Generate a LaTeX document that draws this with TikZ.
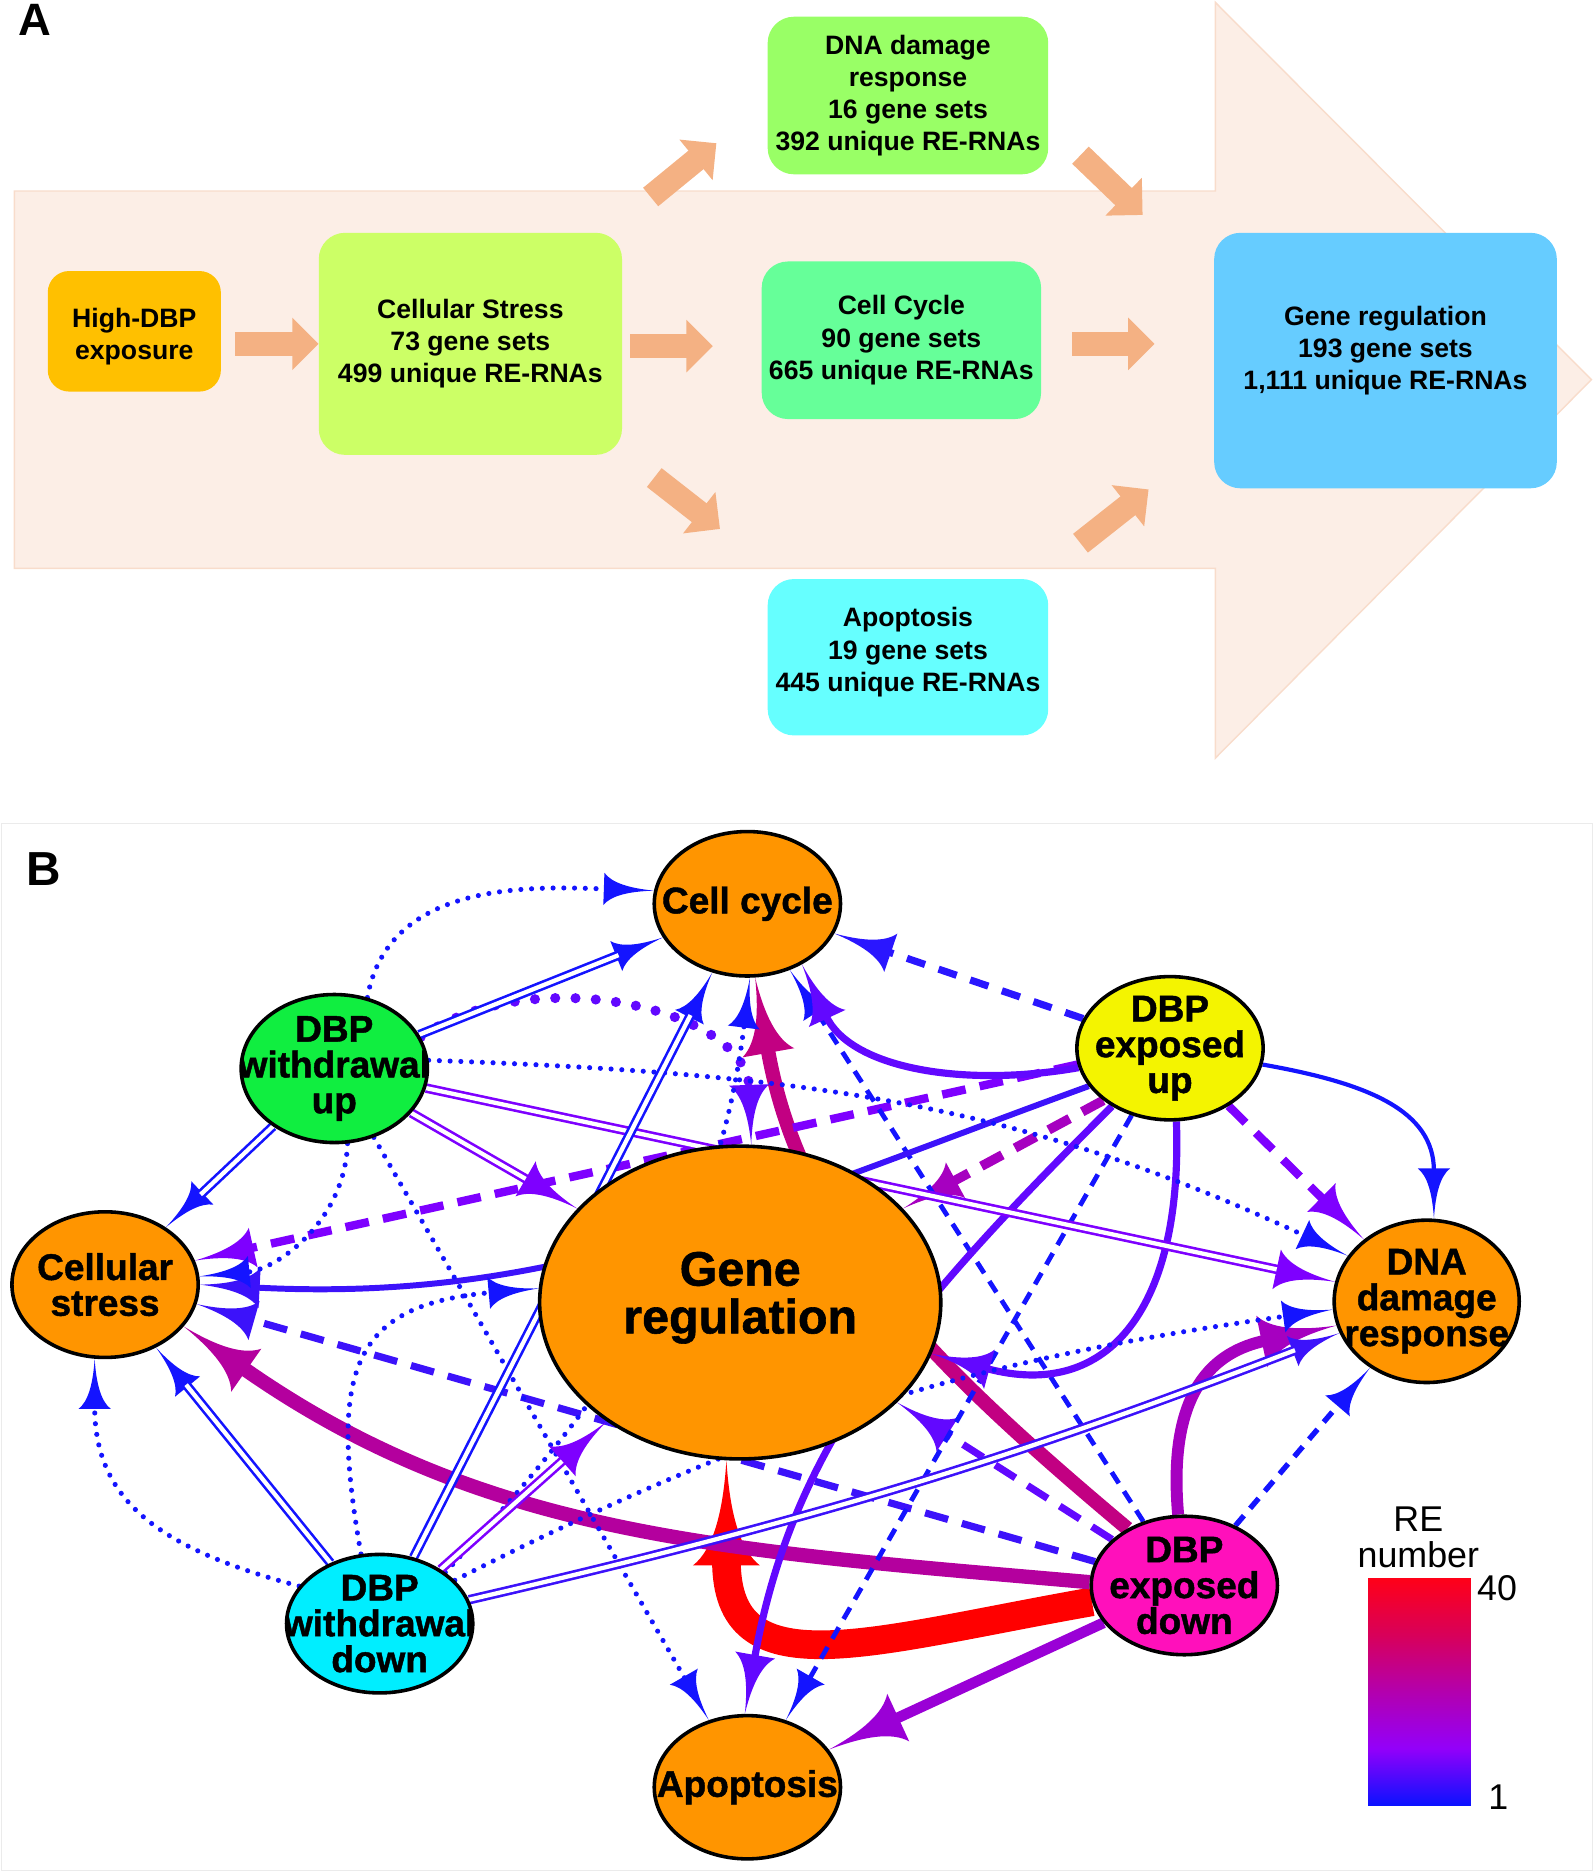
\documentclass[tikz,border=0pt]{standalone}
\usepackage{fontspec}
\setmainfont{Liberation Sans}
\newfontfamily\heavy[FakeBold=1.2]{Liberation Sans Bold}
\usetikzlibrary{arrows.meta,shapes.geometric}

% panel A colours
\definecolor{hdbp}{HTML}{FFC000}
\definecolor{cstress}{HTML}{CCFF66}
\definecolor{dnadmg}{HTML}{99FF66}
\definecolor{ccycle}{HTML}{66FF99}
\definecolor{apopt}{HTML}{66FFFF}
\definecolor{genereg}{HTML}{66CCFF}
\definecolor{peach}{HTML}{FCEEE6}
\definecolor{peachline}{HTML}{F8DCCB}
\definecolor{flowc}{HTML}{F4B183}
% panel B colours
\definecolor{orangeN}{HTML}{FF9500}
\definecolor{greenN}{HTML}{10EE40}
\definecolor{yellowN}{HTML}{F4F400}
\definecolor{cyanN}{HTML}{00EEFF}
\definecolor{magN}{HTML}{FF10BB}
\definecolor{reblue}{HTML}{1414FF}
\definecolor{reblueb}{HTML}{2A16FF}
\definecolor{reindigo}{HTML}{3C12FA}
\definecolor{reviolet}{HTML}{6208FF}
\definecolor{repurple}{HTML}{7E00FF}
\definecolor{reorchid}{HTML}{9A00D6}
\definecolor{remagpur}{HTML}{A600C0}
\definecolor{remag}{HTML}{B4009E}
\definecolor{rerose}{HTML}{C20082}
\definecolor{rered}{HTML}{FF0000}
\definecolor{lgblue}{HTML}{0B12FF}
\definecolor{lgpurple}{HTML}{9300FA}
\definecolor{lgmag}{HTML}{B300AE}
\definecolor{lgcrim}{HTML}{D8005A}
\definecolor{lgred}{HTML}{FF0018}

\pgfdeclarelayer{edges}
\pgfsetlayers{edges,main}

% swept arrow head
\pgfdeclarearrow{
  name = Swept,
  parameters = {\the\pgfarrowlength,\the\pgfarrowwidth},
  setup code = {
    \pgfarrowssettipend{0pt}
    \pgfarrowssetbackend{-\pgfarrowlength}
    \pgfarrowssetlineend{-.95\pgfarrowlength}
    \pgfarrowssavethe\pgfarrowlength
    \pgfarrowssavethe\pgfarrowwidth
  },
  drawing code = {
    \pgfpathmoveto{\pgfqpoint{0pt}{0pt}}
    \pgfpathcurveto{\pgfqpoint{-.5\pgfarrowlength}{.05\pgfarrowwidth}}{\pgfqpoint{-.85\pgfarrowlength}{.2\pgfarrowwidth}}{\pgfqpoint{-\pgfarrowlength}{.5\pgfarrowwidth}}
    \pgfpathlineto{\pgfqpoint{-\pgfarrowlength}{-.5\pgfarrowwidth}}
    \pgfpathcurveto{\pgfqpoint{-.85\pgfarrowlength}{-.2\pgfarrowwidth}}{\pgfqpoint{-.5\pgfarrowlength}{-.05\pgfarrowwidth}}{\pgfqpoint{0pt}{0pt}}
    \pgfpathclose
    \pgfusepathqfill
  },
  defaults = {length = 40pt, width = 25pt}
}

% plain triangle head for the block arrows
\pgfdeclarearrow{
  name = Blk,
  parameters = {\the\pgfarrowlength,\the\pgfarrowwidth},
  setup code = {
    \pgfarrowssettipend{0pt}
    \pgfarrowssetbackend{-\pgfarrowlength}
    \pgfarrowssetlineend{-.95\pgfarrowlength}
    \pgfarrowssavethe\pgfarrowlength
    \pgfarrowssavethe\pgfarrowwidth
  },
  drawing code = {
    \pgfpathmoveto{\pgfqpoint{0pt}{0pt}}
    \pgfpathlineto{\pgfqpoint{-\pgfarrowlength}{.5\pgfarrowwidth}}
    \pgfpathlineto{\pgfqpoint{-\pgfarrowlength}{-.5\pgfarrowwidth}}
    \pgfpathclose
    \pgfusepathqfill
  },
  defaults = {length = 22pt, width = 44pt}
}

\pgfdeclareverticalshading{renum}{100bp}{color(0bp)=(lgblue); color(25bp)=(lgblue);
  color(37.5bp)=(lgpurple); color(50bp)=(lgmag); color(62.5bp)=(lgcrim);
  color(75bp)=(lgred); color(100bp)=(lgred)}

\begin{document}
\begin{tikzpicture}[x=1pt, y=1pt,
    abox/.style={rounded corners=22pt, align=center, inner sep=0pt,
      font=\fontsize{22.3}{27}\selectfont\bfseries},
    flow/.style={flowc, line width=20pt, -{Blk[length=22pt, width=44pt]}},
    oval/.style={ellipse, draw=black, line width=3pt, inner sep=0pt,
      minimum width=156pt, minimum height=120pt},
    lbl/.style={path picture={\node[shape=rectangle, draw=none, fill=none, inner sep=0pt,
      minimum width=0pt, minimum height=0pt, align=center,
      font=\fontsize{31}{30}\selectfont\heavy] at (path picture bounding box.center) {#1};}},
    lblbig/.style={path picture={\node[shape=rectangle, draw=none, fill=none, inner sep=0pt,
      minimum width=0pt, minimum height=0pt, align=center,
      font=\fontsize{40.5}{40}\selectfont\heavy] at ([yshift=4pt]path picture bounding box.center) {#1};}},
    dotb/.style={reblue, line width=4.3pt, line cap=round, dash pattern=on 0pt off 9pt},
    dotp/.style={reviolet, line width=8.5pt, line cap=round, dash pattern=on 0pt off 17pt},
    dashb/.style={line width=4pt, dash pattern=on 11pt off 8pt},
    dashp/.style={line width=7pt, dash pattern=on 20pt off 12pt},
    dbl/.style={line width=8pt, postaction={draw=white, line width=3.6pt, -, shorten >=#1}},
    dbl/.default=40pt,
    tipS/.style={-{Swept[length=42pt, width=27pt]}},
    tipM/.style={-{Swept[length=50pt, width=34pt]}},
    tipL/.style={-{Swept[length=64pt, width=44pt]}},
    tipXL/.style={-{Swept[length=88pt, width=56pt]}}]

  \useasboundingbox (0,0) rectangle (1335,-1568);

  % ---------- panel A ----------
  \node[font=\fontsize{38}{38}\selectfont\bfseries] (A) at (29,-17) {A};
  \fill[peach, draw=peachline, line width=1.2pt] (12,-160) -- (1018,-160) -- (1018,-2)
    -- (1333,-318) -- (1018,-635) -- (1018,-476) -- (12,-476) -- cycle;

  \begin{scope}[every node/.style={abox}]
    \node[fill=hdbp, minimum width=145pt, minimum height=101pt, rounded corners=18pt, text height=52pt] (1) at (112.5,-277.5) {High-DBP\\exposure};
    \node[fill=cstress, minimum width=254pt, minimum height=186pt] (2) at (394,-288) {Cellular Stress\\73 gene sets\\499 unique RE-RNAs};
    \node[fill=dnadmg, minimum width=235pt, minimum height=132pt] (3) at (760.5,-80) {DNA damage\\response\\16 gene sets\\392 unique RE-RNAs};
    \node[fill=ccycle, minimum width=234pt, minimum height=132pt] (4) at (755,-285) {Cell Cycle\\90 gene sets\\665 unique RE-RNAs};
    \node[fill=apopt, minimum width=235pt, minimum height=131pt, text depth=13pt] (5) at (760.5,-550.5) {Apoptosis\\19 gene sets\\445 unique RE-RNAs};
    \node[fill=genereg, minimum width=287pt, minimum height=214pt, text depth=21pt] (6) at (1160.5,-302) {Gene regulation\\193 gene sets\\1,111 unique RE-RNAs};
  \end{scope}

  \coordinate (f1) at (197,-288);
  \coordinate (f2) at (528,-290);
  \coordinate (f2e) at (597,-290);
  \coordinate (f3) at (545,-165);
  \coordinate (f3e) at (600,-120);
  \coordinate (f4) at (548,-400);
  \coordinate (f4e) at (603,-443);
  \coordinate (f5) at (905,-130);
  \coordinate (f5e) at (957,-180);
  \coordinate (f6) at (898,-288);
  \coordinate (f6e) at (967,-288);
  \coordinate (f7) at (905,-455);
  \coordinate (f7e) at (962,-410);
  \draw[flow] (f1) -- (2.west);
  \draw[flow] (f2) -- (f2e);
  \draw[flow] (f3) -- (f3e);
  \draw[flow] (f4) -- (f4e);
  \draw[flow] (f5) -- (f5e);
  \draw[flow] (f6) -- (f6e);
  \draw[flow] (f7) -- (f7e);

  % ---------- panel B ----------
  \node[font=\fontsize{40}{40}\selectfont\bfseries] (B) at (37,-728) {B};

  \begin{scope}[every node/.style={oval}]
    \node[fill=orangeN, lbl={Cell cycle}, minimum height=121pt] (7) at (626,-757) {};
    \node[fill=greenN, lbl={DBP\\withdrawal\\up}, minimum height=124pt] (8) at (280,-895) {};
    \node[fill=yellowN, lbl={DBP\\exposed\\up}] (9) at (980,-878) {};
    \node[fill=orangeN, lbl={Cellular\\stress}, minimum height=122pt] (10) at (88,-1076) {};
    \node[fill=orangeN, lblbig={Gene\\regulation}, minimum width=336pt, minimum height=262pt] (11) at (620,-1091) {};
    \node[fill=orangeN, lbl={DNA\\damage\\response}, minimum width=155pt, minimum height=136pt] (12) at (1195,-1090) {};
    \node[fill=cyanN, lbl={DBP\\withdrawal\\down}, minimum height=116pt] (13) at (318,-1360) {};
    \node[fill=magN, lbl={DBP\\exposed\\down}, minimum height=116pt] (14) at (992,-1328) {};
    \node[fill=orangeN, lbl={Apoptosis}] (15) at (626,-1497) {};
  \end{scope}

  % legend
  \node[font=\fontsize{30}{30}\selectfont, align=center] (16) at (1188,-1288) {RE\\number};
  \node[shade, shading=renum, minimum width=86pt, minimum height=190pt, inner sep=0pt] (17) at (1189,-1417) {};
  \node[font=\fontsize{30}{30}\selectfont, anchor=west, inner sep=0pt] (18) at (1237,-1330) {40};
  \node[font=\fontsize{30}{30}\selectfont] (19) at (1255,-1505) {1};

  \begin{pgfonlayer}{edges}
    \draw[black!8, line width=1pt] (1,-690) rectangle (1334,-1567);
    \begin{scope}[every edge/.style={draw}]
      % thick ones first
      \path (14.190) edge[rered, line width=24pt, tipXL, out=190, in=-90, looseness=1.5] (11.265);
      \path (14.178) edge[remag, line width=12pt, tipL, out=175, in=-35] (10.332);
      \path (14.135) edge[rerose, line width=12pt, tipL, out=140, in=-80] (7.276);
      \path (14.95)  edge[remagpur, line width=10pt, tipL, out=95, in=192, looseness=1.3] (12.195);
      \path (14)     edge[reorchid, line width=9pt, tipL] (15);
      % dashed
      \path (9.218)  edge[remagpur, dashp, line width=8pt, tipM] (11.30);
      \path (9.190)  edge[repurple, dashp, tipM] (10.15);
      \path (9)      edge[repurple, dashp, tipM] (12);
      \path (14)     edge[reviolet, dashp, line width=6pt, tipM] (11);
      \path (14.165) edge[reindigo, dashp, line width=6pt, tipM] (10.348);
      \path (9)      edge[reblueb, line width=6pt, dash pattern=on 16pt off 12pt, tipM] (7);
      \path (14)     edge[reblue, dashb, tipS] (7);
      \path (9)      edge[reblue, dashb, tipS] (15);
      \path (14)     edge[reblue, dashb, line width=4.5pt, tipS] (12);
      % solid curves
      \path (9.192)  edge[reviolet, line width=6pt, tipM, out=190, in=-65] (7.312);
      \path (9.205)  edge[reindigo, line width=5pt, tipM, out=200, in=-3] (10.0);
      \path (9.225)  edge[reviolet, line width=6pt, tipM, out=225, in=80] (15.92);
      \path (9.275)  edge[reviolet, line width=6pt, tipM, out=-88, in=-15, looseness=1.4] (11.345);
      \path (9.350)  edge[reblue, line width=3.5pt, tipS, out=-10, in=90, looseness=1.2] (12.85);
      % withdrawal up
      \path (8.20)   edge[dotp, tipM, out=35, in=92] (11.86);
      \path (8.65)   edge[dotb, tipS, out=80, in=178] (7.172);
      \path (8)      edge[reblue, dbl, tipS] (7);
      \path (8.5)    edge[dotb, tipS, out=-2, in=155] (12.150);
      \path (8)      edge[repurple, dbl=50pt, tipM] (12);
      \path (8)      edge[repurple, dbl=50pt, tipM] (11);
      \path (8)      edge[reblue, dbl, tipS] (10);
      \path (8)      edge[dotb, tipS] (15);
      \path (8.280)  edge[dotb, tipS, out=-92, in=5] (10.5);
      % withdrawal down
      \path (13.155) edge[dotb, tipS, out=165, in=-90, looseness=1.2] (10.262);
      \path (13)     edge[reblue, dbl, tipS] (10);
      \path (13.105) edge[dotb, tipS, out=100, in=185, looseness=1.5] (11.176);
      \path (13)     edge[reblue, dbl, tipS] (7);
      \path (13.38)  edge[dotb, tipS, out=47, in=-97] (7.272);
      \path (13)     edge[repurple, dbl=50pt, tipM] (11);
      \path (13.15)  edge[reindigo, dbl, tipS, bend right=4] (12.200);
      \path (13.30)  edge[dotb, tipS, out=27, in=188] (12.185);
    \end{scope}
  \end{pgfonlayer}

\end{tikzpicture}
\end{document}
